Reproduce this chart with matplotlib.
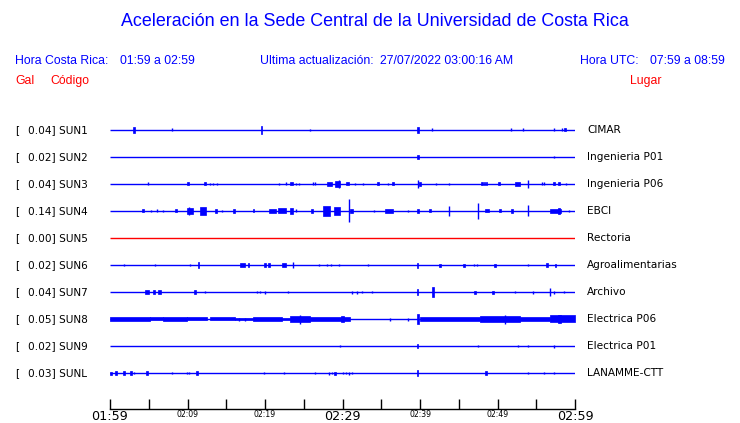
import matplotlib
matplotlib.use("Agg")
import matplotlib.pyplot as plt

# station info
codes = ["SUN1", "SUN2", "SUN3", "SUN4", "SUN5", "SUN6", "SUN7", "SUN8", "SUN9", "SUNL"]
gal = [0.04, 0.02, 0.04, 0.14, 0.00, 0.02, 0.04, 0.05, 0.02, 0.03]
places = ["CIMAR", "Ingenieria P01", "Ingenieria P06", "EBCI", "Rectoria",
          "Agroalimentarias", "Archivo", "Electrica P06", "Electrica P01", "LANAMME-CTT"]

# time axis (minutes after 01:59)
tick_minutes = list(range(0, 61, 5))
tick_labels = ["01:59", "", "02:09", "", "02:19", "", "02:29", "", "02:39", "", "02:49", "", "02:59"]

# bursts: (minute, half amplitude, duration in minutes)
sun1 = [(3.1, 3, 0.2), (8.0, 1.5, 0), (19.6, 4, 0.15), (25.8, 1, 0), (39.7, 3, 0.3),
        (41.5, 1.5, 0), (51.7, 1.5, 0), (53.3, 1.5, 0), (57.3, 1.5, 0), (58.3, 1.5, 0),
        (58.7, 1.5, 0.2)]
sun2 = [(39.7, 2, 0.3), (57.3, 1, 0)]
sun3 = [(4.9, 1.5, 0), (10.1, 1.5, 0.25), (12.3, 1.5, 0.25), (12.9, 1, 0), (13.3, 1, 0),
        (13.8, 1, 0), (21.8, 1, 0), (22.7, 1.5, 0), (23.4, 1.5, 0.3), (24.0, 1, 0),
        (24.4, 1, 0), (26.2, 1.5, 0), (26.5, 1.5, 0), (28.3, 2, 0.6), (29.35, 3, 0.6),
        (29.5, 4, 0), (30.6, 1.5, 0.4), (31.6, 1, 0), (32.6, 1, 0), (34.6, 1.5, 0.2),
        (35.9, 1, 0), (36.5, 1.5, 0.2), (39.7, 4, 0), (40.0, 2, 0.3), (42.1, 1, 0),
        (43.7, 1, 0), (48.0, 1.5, 0.2), (48.3, 1.5, 0.15), (48.6, 1.5, 0.2), (50.2, 1.5, 0.2),
        (52.6, 2, 0.6), (53.9, 4, 0), (55.7, 1.5, 0), (56.0, 1.5, 0), (57.3, 1.5, 0.2),
        (57.9, 1.5, 0.2), (58.8, 1, 0)]
sun4 = [(4.3, 1.5, 0.3), (5.3, 1, 0), (6.1, 1.5, 0), (6.8, 1, 0), (8.5, 1.5, 0.2),
        (10.3, 3, 0.8), (10.2, 4, 0), (12.0, 4, 0.9), (13.7, 2, 0.3), (14.5, 1, 0),
        (16.0, 2, 0.3), (18.5, 1.5, 0.2), (21.0, 2, 0.9), (22.2, 2.5, 1.0), (23.4, 3, 0.4),
        (24.0, 1.5, 0), (26.1, 2, 0.3), (27.9, 5, 0.9), (29.3, 4, 0.8), (30.8, 11.5, 0),
        (31.2, 2, 0.4), (34.1, 1, 0), (36.0, 2, 1.0), (38.5, 1, 0), (39.7, 2, 0.3),
        (41.3, 1.5, 0.2), (43.7, 5, 0), (47.5, 8, 0), (48.7, 1.5, 0.5), (50.3, 1.5, 0.2),
        (51.85, 2, 0.3), (53.9, 5.5, 0), (57.5, 2, 1.4), (57.9, 3, 0.2), (59.2, 1, 0)]
sun5 = []
sun6 = [(1.8, 1.5, 0), (5.8, 1.5, 0), (10.3, 1.5, 0), (11.4, 3, 0.2), (17.1, 2, 0.6),
        (17.9, 2, 0.2), (20.0, 2, 0.2), (20.5, 2, 0.2), (22.5, 2, 0.5), (23.6, 3, 0),
        (27.0, 1, 0), (28.0, 1, 0), (28.5, 1.5, 0), (29.5, 1.5, 0), (33.3, 1, 0),
        (39.7, 2.5, 0.2), (42.6, 1.5, 0.2), (45.7, 1.5, 0.2), (47.0, 1, 0), (47.4, 1, 0),
        (49.7, 1.5, 0.2), (53.9, 1, 0), (56.4, 2, 0.2), (57.5, 1.5, 0.2)]
sun7 = [(4.8, 2, 0.5), (5.7, 2, 0.3), (6.4, 2, 0.4), (11.0, 2, 0.2), (12.3, 1, 0),
        (19.0, 1, 0), (19.3, 1, 0), (20.0, 1.5, 0), (23.0, 1, 0), (31.2, 1.5, 0),
        (31.9, 1.5, 0), (32.5, 1, 0), (33.8, 1, 0), (39.7, 3, 0.2), (41.7, 5, 0.3),
        (47.1, 1.5, 0.2), (49.4, 1.5, 0.2), (52.3, 1, 0), (54.6, 1.5, 0), (56.8, 4, 0),
        (57.3, 1.5, 0), (58.6, 1, 0)]
sun8 = [(16.6, 1.5, 0), (17.4, 1.5, 0), (36.1, 1.5, 0), (38.5, 1.5, 0), (39.7, 5, 0.3),
        (24.5, 4.5, 0), (30.0, 3, 0.3), (51.0, 4.5, 0), (58.0, 4, 0.5)]
# continuous noise on SUN8: (start minute, end minute, half amplitude)
sun8_bands = [(0.0, 5.2, 2), (5.2, 6.8, 1.5), (6.8, 9.9, 2), (9.9, 12.5, 1.5),
              (12.9, 16.1, 1.5), (16.1, 18.5, 0.7), (18.5, 22.2, 2), (22.2, 23.2, 1.2),
              (23.2, 25.8, 3), (25.8, 31.0, 2), (31.0, 39.6, 0.4), (40.0, 47.7, 2),
              (47.7, 52.9, 3), (52.9, 56.8, 2), (56.8, 60.0, 3.5)]
sun9 = [(29.7, 1, 0), (39.7, 2, 0.2), (47.5, 1, 0), (52.6, 1, 0), (53.9, 1, 0), (57.3, 1.5, 0)]
sunl = [(0.1, 1.5, 0.2), (0.8, 2, 0.3), (1.8, 2, 0.2), (2.7, 2, 0.2), (3.1, 1, 0),
        (4.8, 2, 0.2), (8.0, 1, 0), (9.9, 1, 0), (10.2, 1, 0), (11.2, 2, 0.2),
        (19.9, 1, 0), (22.5, 1, 0), (26.5, 1, 0), (28.3, 1.5, 0), (28.6, 1, 0),
        (29.0, 1.5, 0.2), (30.1, 1, 0), (30.5, 1, 0), (30.8, 1.5, 0), (31.2, 1, 0),
        (39.7, 3, 0.2), (48.5, 2, 0.3), (53.9, 1, 0), (56.0, 1, 0), (57.3, 1, 0)]

traces = [sun1, sun2, sun3, sun4, sun5, sun6, sun7, sun8, sun9, sunl]

BLUE = "#0000ff"
RED = "#ff0000"
W, H = 740, 423
amp_scale = 1 / 27.0  # row spacing is 27 px


def fx(px):
    return px / W


def fy(py):
    return 1 - py / H


fig = plt.figure(figsize=(7.4, 4.23), dpi=100)
ax = fig.add_axes([fx(110), fy(409), 465 / W, (409 - 117) / H])

for i, events in enumerate(traces):
    col = RED if gal[i] == 0 else BLUE
    ax.hlines(i, 0, 60, color=col, lw=1.0)
    if codes[i] == "SUN8":
        for t0, t1, a in sun8_bands:
            ax.fill_between([t0, t1], i - a * amp_scale, i + a * amp_scale,
                            color=col, lw=0.5)
    for t, a, w in events:
        if w == 0:
            ax.vlines(t, i - a * amp_scale, i + a * amp_scale, color=col, lw=1.0)
        else:
            ax.bar(t, 2 * a * amp_scale, width=w, bottom=i - a * amp_scale,
                   color=col, edgecolor=col, lw=0.5)

    # labels either side
    fig.text(fx(15), fy(130 + 27 * i), "[", fontsize=7.6, va="center", family="DejaVu Sans")
    fig.text(fx(28), fy(130 + 27 * i), f"{gal[i]:.2f}] {codes[i]}", fontsize=7.6,
             va="center", family="DejaVu Sans")
    fig.text(fx(587), fy(130 + 27 * i), places[i], fontsize=7.6, va="center",
             family="DejaVu Sans")

ax.set_xlim(0, 60)
ax.set_ylim((409 - 130) / 27, (117 - 130) / 27)
for s in ["left", "top", "right"]:
    ax.spines[s].set_visible(False)
ax.spines["bottom"].set_linewidth(1.0)
ax.set_yticks([])
ax.set_xticks(tick_minutes)
ax.set_xticklabels(tick_labels)
ax.tick_params(axis="x", direction="in", length=7, width=1.0, pad=1)
for k, lab in enumerate(ax.get_xticklabels()):
    lab.set_family("DejaVu Sans")
    lab.set_fontsize(9.2 if k % 6 == 0 else 5.6)

# header texts
hfont = dict(family="Liberation Sans", fontsize=8.8, va="center")
fig.text(fx(375), fy(22), "Aceleración en la Sede Central de la Universidad de Costa Rica",
         color=BLUE, ha="center", va="center", family="Liberation Sans", fontsize=12.9)
fig.text(fx(15), fy(61), "Hora Costa Rica:", color=BLUE, **hfont)
fig.text(fx(120), fy(61), "01:59 a 02:59", color=BLUE, **hfont)
fig.text(fx(260), fy(61), "Ultima actualización:", color=BLUE, **hfont)
fig.text(fx(380), fy(61), "27/07/2022 03:00:16 AM", color=BLUE, **hfont)
fig.text(fx(580), fy(61), "Hora UTC:", color=BLUE, **hfont)
fig.text(fx(650), fy(61), "07:59 a 08:59", color=BLUE, **hfont)
fig.text(fx(15), fy(81), "Gal", color=RED, **hfont)
fig.text(fx(50), fy(81), "Código", color=RED, **hfont)
fig.text(fx(630), fy(81), "Lugar", color=RED, **hfont)

fig.savefig("out.png", dpi=100)
